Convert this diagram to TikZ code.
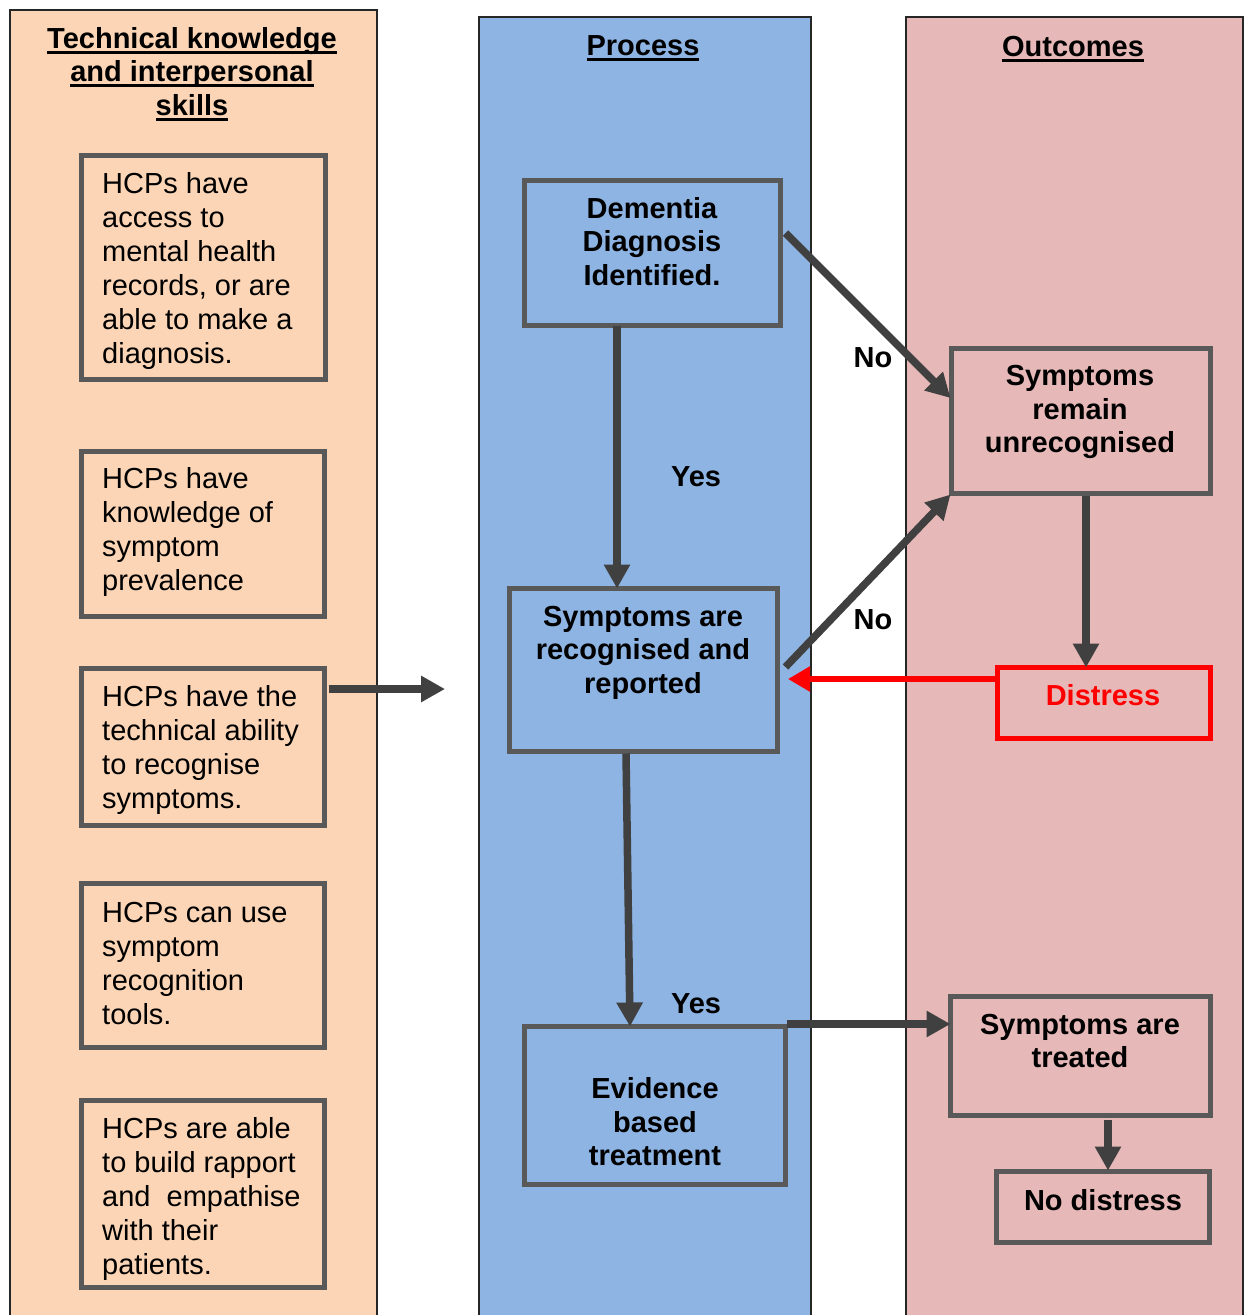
\documentclass[tikz,border=0pt]{standalone}
\usepackage{fontspec}
\setmainfont{Liberation Sans}
\usetikzlibrary{arrows.meta}

\definecolor{skillfill}{HTML}{FBD5B5}
\definecolor{procfill}{HTML}{8EB4E3}
\definecolor{outfill}{HTML}{E6B9B8}
\definecolor{boxline}{HTML}{595959}
\definecolor{arrowline}{HTML}{404040}
\definecolor{alarmred}{HTML}{FF0000}

% heavy underline for the column headings
\newcommand\headline[1]{\setbox0=\hbox{#1}\rlap{\rule[-5.5pt]{\wd0}{3pt}}\box0}

\begin{document}
\begin{tikzpicture}[x=1pt,y=-1pt,
  colframe/.style={draw=black!85,line width=1.3pt},
  gbox/.style={draw=boxline,line width=5pt,rectangle,inner sep=0pt,outer sep=0pt},
  rbox/.style={draw=alarmred,line width=5pt,rectangle,inner sep=0pt,outer sep=0pt},
  bodytext/.style={inner sep=0pt,align=left,font=\fontsize{29}{34}\selectfont},
  boldtext/.style={inner sep=0pt,align=center,font=\fontsize{29}{33.5}\selectfont\bfseries},
  flow/.style={draw=arrowline,line width=7.5pt,-{Triangle[length=24pt,width=25pt]}},
  alarm/.style={draw=alarmred,line width=6pt,-{Triangle[length=22pt,width=24pt]}}
]
\useasboundingbox (0,0) rectangle (1246,1315);
\clip (0,0) rectangle (1246,1315);

% three column panels
\path[colframe,fill=skillfill] (10,10) rectangle (377,1330);
\path[colframe,fill=procfill] (479,17) rectangle (811,1330);
\path[colframe,fill=outfill] (906,17) rectangle (1243,1330);

% column headings
\node[boldtext] (hskill) at (192,74)
  {\headline{Technical knowledge}\\\headline{and interpersonal}\\\headline{skills}};
\node[boldtext] (hproc) at (643,48) {\headline{Process}};
\node[boldtext] (hout) at (1073,49) {\headline{Outcomes}};

% skills column
\node[gbox,minimum width=244pt,minimum height=224pt] (k1) at (203.5,267.5) {};
\node[bodytext,anchor=west] (k1t) at (102,270.5)
  {HCPs have\\access to\\mental health\\records, or are\\able to make a\\diagnosis.};
\node[gbox,minimum width=243pt,minimum height=165pt] (k2) at (203,534) {};
\node[bodytext,anchor=west] (k2t) at (102,532)
  {HCPs have\\knowledge of\\symptom\\prevalence};
\node[gbox,minimum width=243pt,minimum height=157pt] (k3) at (203,747) {};
\node[bodytext,anchor=west] (k3t) at (102,749.5)
  {HCPs have the\\technical ability\\to recognise\\symptoms.};
\node[gbox,minimum width=243pt,minimum height=164pt] (k4) at (203,965.5) {};
\node[bodytext,anchor=west] (k4t) at (102,964)
  {HCPs can use\\symptom\\recognition\\tools.};
\node[gbox,minimum width=243pt,minimum height=187pt] (k5) at (203,1194) {};
\node[bodytext,anchor=west] (k5t) at (102,1198.5)
  {HCPs are able\\to build rapport\\and\ \ empathise\\with their\\patients.};

% process column
\node[gbox,minimum width=256pt,minimum height=145pt] (dem) at (652.5,253) {};
\node[boldtext] (demt) at (652,241.5) {Dementia\\Diagnosis\\Identified.};
\node[gbox,minimum width=268pt,minimum height=163pt] (rec) at (643.5,670) {};
\node[boldtext] (rect) at (643,652.5) {Symptoms are\\recognised and\\reported};
\node[gbox,minimum width=261pt,minimum height=158pt] (evi) at (655,1105.5) {};
\node[boldtext] (evit) at (655,1122) {Evidence\\based\\treatment};

% outcomes column
\node[gbox,minimum width=259pt,minimum height=145pt] (rem) at (1081,421) {};
\node[boldtext] (remt) at (1080,412) {Symptoms\\remain\\unrecognised};
\node[rbox,minimum width=213pt,minimum height=71pt] (dis) at (1104,703) {};
\node[boldtext,text=alarmred] (dist) at (1103,695) {Distress};
\node[gbox,minimum width=260pt,minimum height=119pt] (trt) at (1080.5,1056) {};
\node[boldtext] (trtt) at (1080,1041) {Symptoms are\\treated};
\node[gbox,minimum width=213pt,minimum height=71pt] (nod) at (1103,1207) {};
\node[boldtext] (nodt) at (1103,1200) {No distress};

% branch labels
\node[boldtext] (yes1) at (696,477) {Yes};
\node[boldtext] (no1) at (873,358) {No};
\node[boldtext] (no2) at (873,620) {No};
\node[boldtext] (yes2) at (696,1004) {Yes};

% connectors
\coordinate (skillsend) at (445,689);
\draw[flow] ([shift={(4,-58)}]k3.east) -- (skillsend);
\draw[flow] ([shift={(-35.5,0)}]dem.south) -- ([shift={(-26.5,0)}]rec.north);
\draw[flow] ([shift={(5,-20)}]dem.east) -- ([shift={(-1,-23)}]rem.west);
\draw[flow] ([shift={(8,-3)}]rec.east) -- ([shift={(-1,1)}]rem.south west);
\draw[flow] ([shift={(5,2)}]rem.south) -- ([shift={(-18,0)}]dis.north);
\draw[alarm] ([shift={(2.5,-24)}]dis.west) -- ([shift={(10.5,9)}]rec.east);
\draw[flow] ([shift={(-17.5,2)}]rec.south) -- ([shift={(-25,0)}]evi.north);
\draw[flow] ([shift={(1,-2.5)}]evi.north east) -- ([shift={(0,-32)}]trt.west);
\draw[flow] ([shift={(27.5,4)}]trt.south) -- ([shift={(5,-1)}]nod.north);
\end{tikzpicture}
\end{document}
